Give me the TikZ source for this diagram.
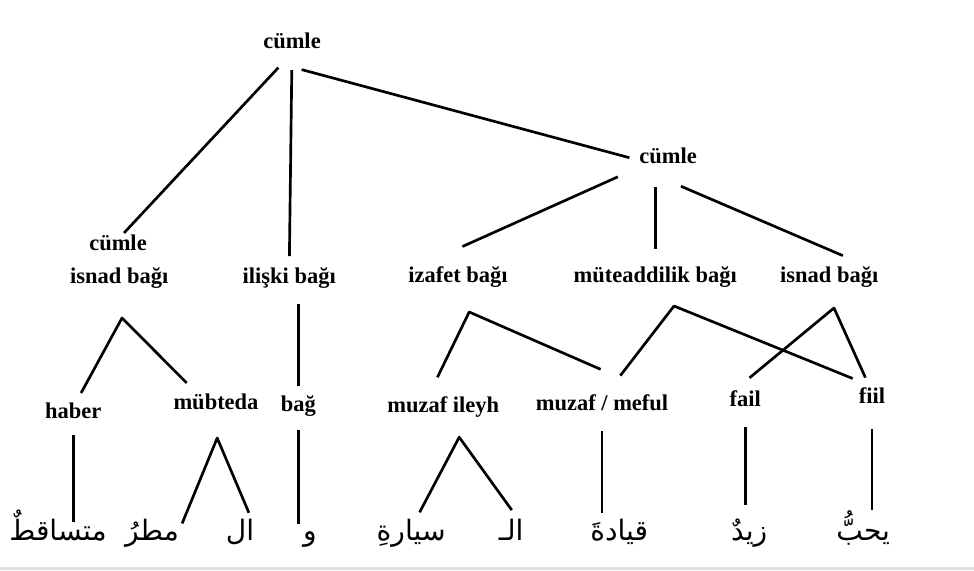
\documentclass[tikz,border=0pt]{standalone}
\usepackage{fontspec}
\setmainfont{Liberation Serif}
\newfontfamily\arabicfont[Script=Arabic]{DejaVu Sans}
\TeXXeTstate=1

\begin{document}
\begin{tikzpicture}[line width=1.9pt,
  lbl/.style={font=\bfseries\fontsize{16}{19}\selectfont,inner sep=0pt,text height=0.7em,text depth=0.22em},
  ar/.style={font=\arabicfont\fontsize{20}{24}\selectfont,inner sep=0pt,anchor=base,text height=0.8em,text depth=0.3em},
  br/.style={line join=round}]
  \useasboundingbox (0,0) rectangle (24.35,-14.25);
  \fill[black!12] (0,-14.18) rectangle (24.35,-14.25);

  \node[lbl] (c0) at (7.30,-1.13) {cümle};
  \node[lbl] (c1) at (16.70,-4.00) {cümle};
  \node[lbl] (c2) at (2.95,-6.18) {cümle};
  \node[lbl] (isnadA) at (2.98,-7.00) {isnad bağı};
  \node[lbl] (iliski) at (7.23,-7.00) {ilişki bağı};
  \node[lbl] (izafet) at (11.45,-6.98) {izafet bağı};
  \node[lbl] (mutead) at (16.38,-6.98) {müteaddilik bağı};
  \node[lbl] (isnadB) at (20.73,-6.98) {isnad bağı};

  \node[lbl] (haber) at (1.83,-10.38) {haber};
  \node[lbl] (mubteda) at (5.40,-10.15) {mübteda};
  \node[lbl] (bag) at (7.46,-10.20) {bağ};
  \node[lbl] (muzil) at (11.08,-10.23) {muzaf ileyh};
  \node[lbl] (muzmef) at (15.05,-10.18) {muzaf / meful};
  \node[lbl] (fail) at (18.63,-10.08) {fail};
  \node[lbl] (fiil) at (21.80,-10.00) {fiil};

  % words
  \node[ar] (a1) at (1.45,-13.52) {\beginR متساقطٌ\endR};
  \node[ar] (a2) at (3.80,-13.52) {\beginR مطرُ\endR};
  \node[ar] (a3) at (6.00,-13.52) {\beginR ال\endR};
  \node[ar] (a4) at (7.75,-13.52) {\beginR و\endR};
  \node[ar] (a5) at (10.28,-13.52) {\beginR سيارةِ\endR};
  \node[ar] (a6) at (12.78,-13.52) {\beginR الـ\endR};
  \node[ar] (a7) at (15.48,-13.52) {\beginR قيادةَ\endR};
  \node[ar] (a8) at (18.73,-13.52) {\beginR زيدٌ\endR};
  \node[ar] (a9) at (21.58,-13.52) {\beginR يحبُّ\endR};

  % upper branches
  \draw[shorten <=0.5cm,shorten >=0.22cm] (c0.south) -- (c2.north);
  \draw[shorten <=0.43cm,shorten >=0.4cm] (c0.south) -- (iliski.north);
  \draw[shorten <=0.25cm,shorten >=0.22cm] ([yshift=-0.35cm]c0.south) -- (c1.west);
  \draw[shorten <=0.55cm,shorten >=1.52cm] (c1.south west) -- (izafet.north west);
  \draw[shorten <=0.48cm,shorten >=0.55cm] (mutead.north |- c1.south) -- (mutead.north);
  \draw[shorten <=1.17cm,shorten >=1cm] (c1.south west) -- (isnadB.north east);
  \draw[shorten <=0.41cm,shorten >=0.35cm] (bag.north |- iliski.south) -- (bag.north);

  % forks
  \coordinate (apA) at (3.05,-7.95);
  \coordinate (apZ) at (11.73,-7.80);
  \coordinate (apM) at (16.85,-7.65);
  \coordinate (apI) at (20.85,-7.70);
  \draw[br,shorten <=0.41cm,shorten >=0.54cm] (haber.north) -- (apA) -- (mubteda.151);
  \draw[br,shorten <=0.67cm,shorten >=1.88cm] (muzil.156) -- (apZ) -- (muzmef.north east);
  \draw[br,shorten <=0.75cm,shorten >=0.91cm] (muzmef.north) -- (apM) -- (fiil.north east);
  \draw[br,shorten <=0.69cm,shorten >=0.4cm] (fail.north west) -- (apI) -- (fiil.north);

  % down to the words
  \coordinate (apB) at (5.43,-10.95);
  \coordinate (apL) at (11.48,-10.93);
  \draw[shorten <=0.31cm,shorten >=0.16cm] (haber.south) -- (haber.south |- a1.north);
  \draw[br,shorten <=0.13cm,shorten >=0.42cm] (a2.north east) -- (apB) -- (a3.north east);
  \draw[shorten <=0.36cm,shorten >=0.11cm] (bag.south) -- (bag.south |- a4.north);
  \draw[br,shorten <=0.45cm,shorten >=0.56cm] (a5.north) -- (apL) -- (a6.north east);
  \draw[shorten <=0.41cm,shorten >=0.39cm] (muzmef.south) -- (muzmef.south |- a7.north);
  \draw[shorten <=0.41cm,shorten >=0.59cm] (fail.south) -- (fail.south |- a8.north);
  \draw[shorten <=0.54cm,shorten >=0.46cm] (fiil.south) -- (fiil.south |- a9.north);
\end{tikzpicture}
\end{document}
